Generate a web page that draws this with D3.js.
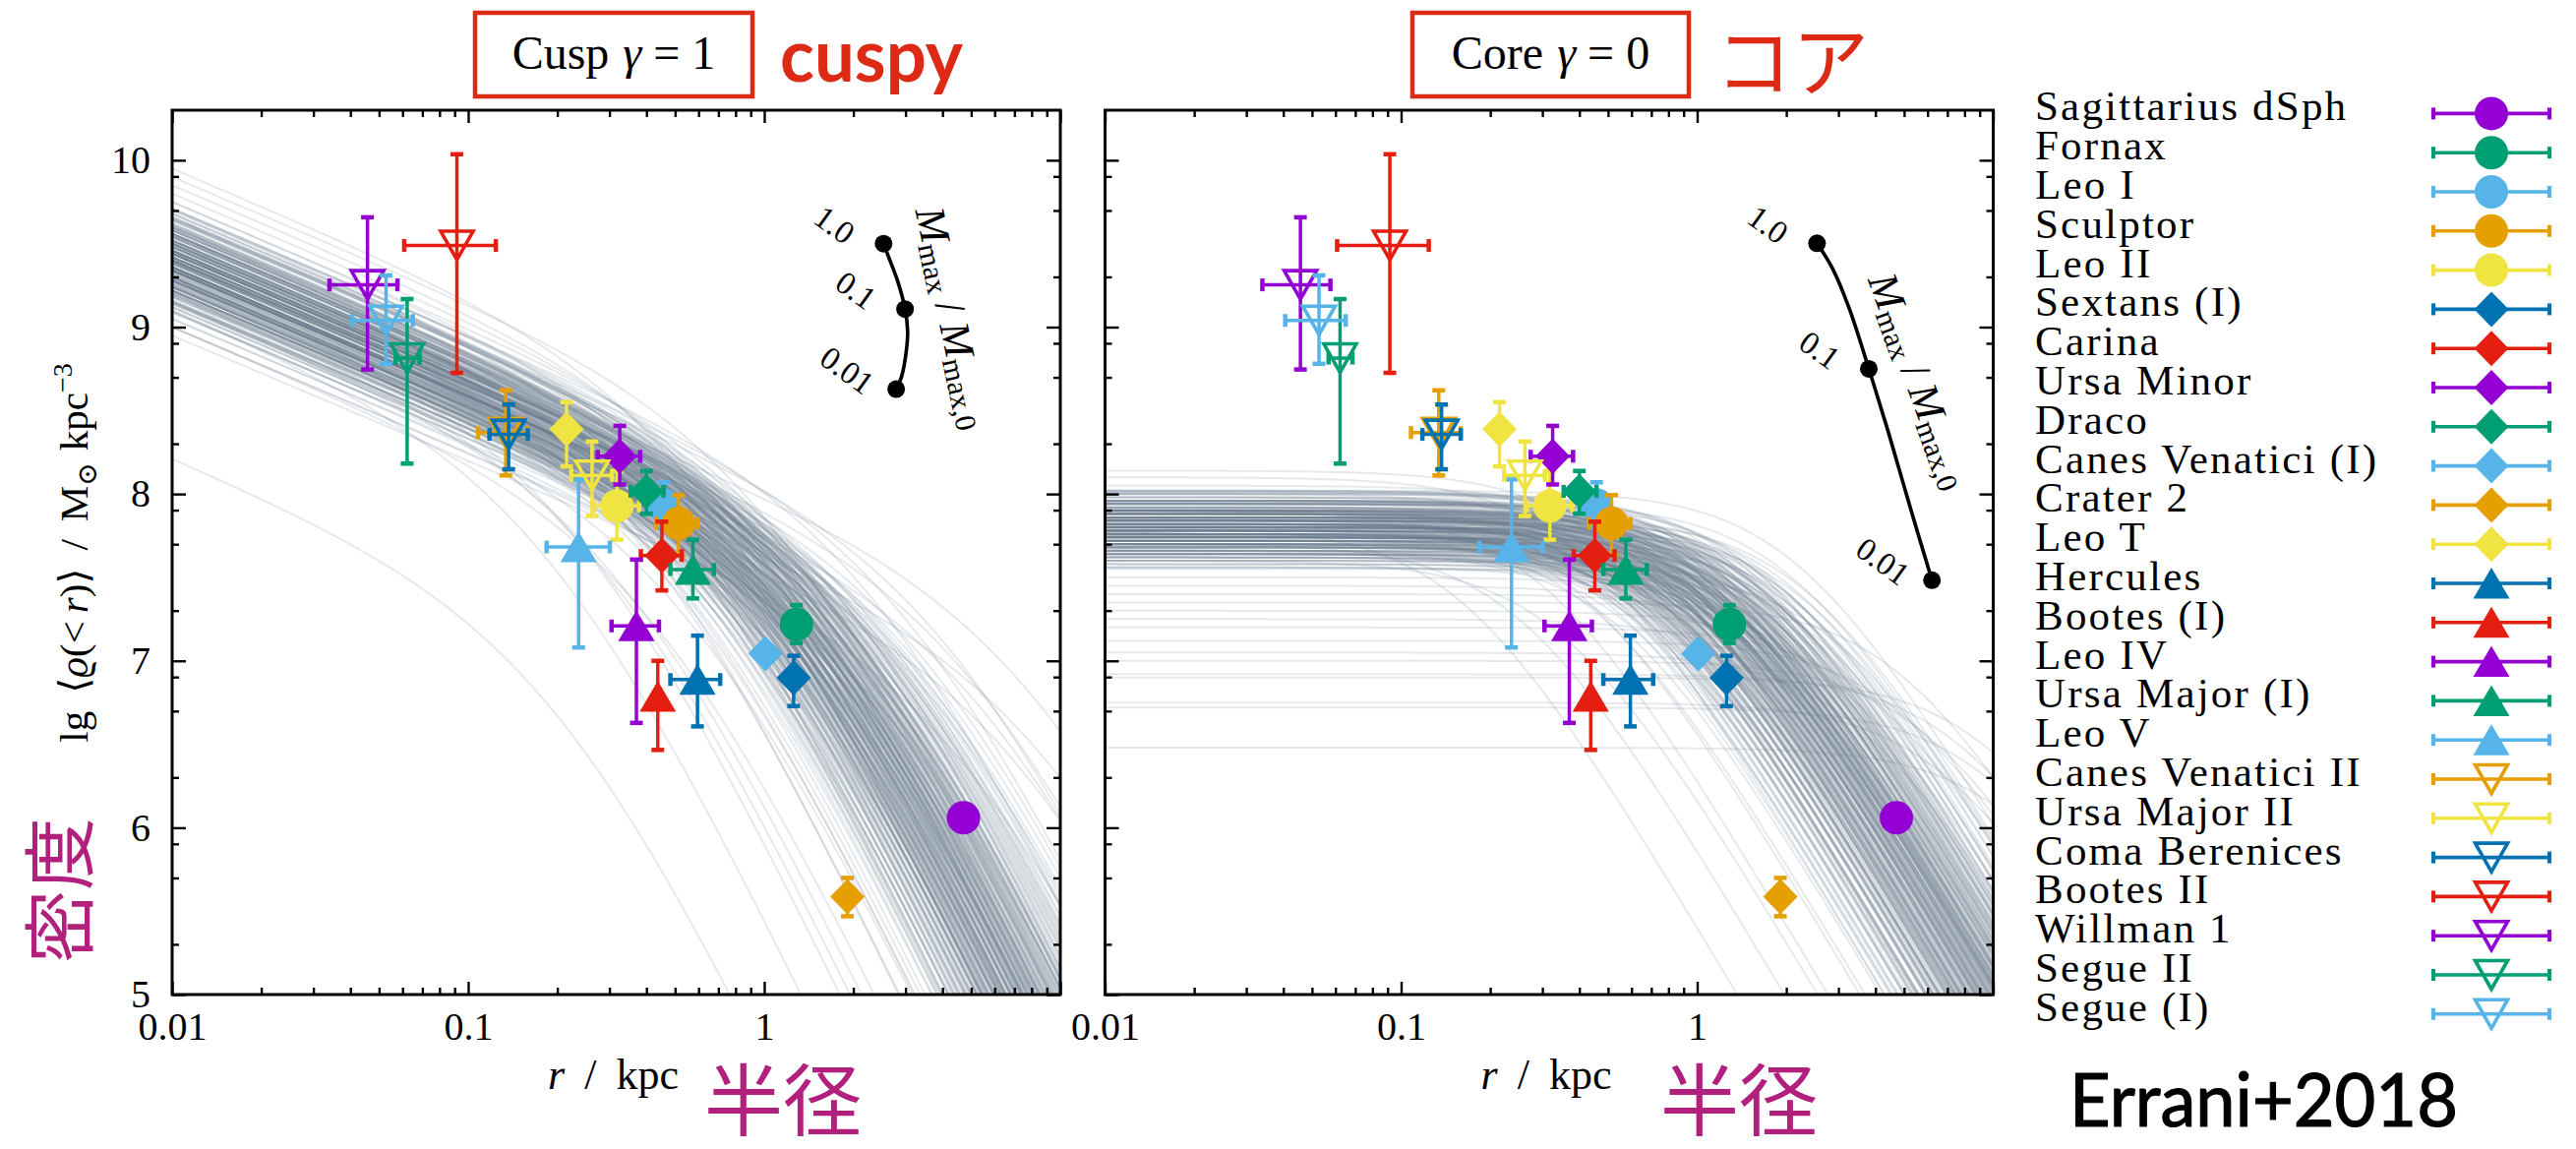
<!DOCTYPE html>
<html>
<head>
<meta charset="utf-8">
<script src="https://cdn.jsdelivr.net/npm/d3@7/dist/d3.min.js"></script>
<style>
html,body{margin:0;padding:0;background:#fff;}
svg{display:block;}
</style>
</head>
<body>
<svg id="chart" width="2619" height="1168" xmlns="http://www.w3.org/2000/svg"></svg>
<script>
// ================= DATA =================
const galaxyNames = ["Sagittarius dSph","Fornax","Leo I","Sculptor","Leo II","Sextans (I)","Carina","Ursa Minor","Draco","Canes Venatici (I)","Crater 2","Leo T","Hercules","Bootes (I)","Leo IV","Ursa Major (I)","Leo V","Canes Venatici II","Ursa Major II","Coma Berenices","Bootes II","Willman 1","Segue II","Segue (I)"];
const galaxyMarkers = ["circle","circle","circle","circle","circle","diamond","diamond","diamond","diamond","diamond","diamond","diamond","up","up","up","up","up","down","down","down","down","down","down","down"];
const galaxyColorKeys = ["purple","green","lightblue","orange","yellow","blue","red","purple","green","lightblue","orange","yellow","blue","red","purple","green","lightblue","orange","yellow","blue","red","purple","green","lightblue"];
// r / kpc (centre, lower, upper)
const radiusKpc = [4.71,1.285,0.457,0.514,0.318,1.257,0.451,0.325,0.400,1.009,1.91,0.215,0.595,0.437,0.370,0.574,0.236,0.134,0.262,0.137,0.0916,0.0457,0.0622,0.0528];
const radiusLo  = [null,null,null,0.431,0.266,null,0.383,0.274,0.354,null,null,null,0.482,null,0.305,0.482,0.184,0.108,0.223,0.118,0.0608,0.034,0.0569,0.0406];
const radiusHi  = [null,null,null,0.595,0.378,null,0.526,0.381,0.457,null,null,null,0.710,null,0.441,0.676,0.301,0.159,0.306,0.159,0.124,0.0577,0.0685,0.065];
// lg <rho(<r)> (centre, lower, upper)
const logDensity   = [6.06,7.219,7.935,7.824,7.928,6.898,7.631,8.226,8.016,7.043,5.587,8.388,6.888,6.786,7.209,7.547,7.682,8.368,8.111,8.357,9.489,9.253,8.814,9.040];
const logDensityLo = [null,7.107,7.80,7.631,7.726,6.729,7.422,8.057,7.881,null,5.469,8.165,6.607,6.466,6.628,7.374,7.080,8.111,7.868,8.148,8.726,8.746,8.182,8.780];
const logDensityHi = [null,7.334,8.07,7.993,8.138,7.030,7.834,8.408,8.138,null,5.699,8.550,7.151,7.0,7.607,7.726,8.087,8.621,8.314,8.536,10.036,9.658,9.168,9.310];

// model halo curves: lg<rho> at r = 0.01 kpc (L) and scale radius rc (kpc)
const cuspBandL  = [9.42,9.35,9.5,9.3,9.45,9.38,9.55,9.25,9.48,9.33,9.6,9.2,9.4,9.52,9.28,9.44,9.36,9.62,9.18,9.5,9.3,9.4,9.58,9.22,9.46,9.34,9.65,9.15,9.42,9.28];
const cuspBandRc = [1.3,1.0,1.5,1.2,0.9,1.8,1.1,1.5,2.2,0.8,1.3,1.0,2.6,0.75,2.0,1.15,1.4,0.95,1.7,1.8,0.65,3.2,1.6,1.3,1.05,2.4,1.2,2.2,0.7,1.1];
const cuspFringeL  = [9.95,9.85,9.9,9.75,9.7,9.8,9.0,8.95,9.05,9.15,9.3,9.5,9.6,9.2,9.1,9.3,9.0,9.45,9.6,9.1,9.7,9.05,9.35,9.55,9.25,9.15,9.75,9.45,9.65,9.0,8.21];
const cuspFringeRc = [0.6,0.8,1.1,1.4,0.5,1.0,3.0,5,8,10,6,9,4.5,0.3,0.2,0.25,0.45,0.4,0.35,0.6,2.5,1.4,0.5,0.55,4,0.35,0.7,5.5,3.3,2.0,0.209];
const coreBandL  = [7.8,7.85,7.75,7.9,7.7,7.82,7.78,7.88,7.72,7.95,7.68,7.84,7.76,7.92,7.8,7.66,7.86,7.74,7.9,7.7,7.82,7.96,7.62,7.88,7.78,7.8,7.72,7.84,7.94,7.64];
const coreBandRc = [1.07,1.2,0.9,1.0,1.3,0.8,1.5,0.9,1.1,1.15,0.95,1.35,0.75,0.85,1.7,1.6,1.05,1.25,1.4,0.8,0.65,0.95,1.2,1.8,1.0,2.0,0.7,0.6,1.25,1.45];
const coreFringeL  = [7.5,7.4,7.3,7.2,7.12,7.0,6.92,6.72,6.48,6.75,7.05,7.25,7.45,7.55,7.35,7.6,8.14,8.05,8.0,8.1,7.98,8.02,7.8,7.7,7.9,7.6,7.75,7.85,7.65,6.9];
const coreFringeRc = [2,2.5,3,4,5,6,8,10,12,7,3.5,2.2,1.6,3,5,2.5,0.5,0.7,0.55,0.4,1.6,2.2,0.16,0.25,0.3,0.35,0.45,0.4,0.55,10];
const bandOffsetL  = [-0.06, 0, 0.06];
const bandFactorRc = [0.85, 1, 1.18];

// tidal track (Mmax / Mmax,0)
const cuspTrackR = [2.53,2.62,2.83,2.99,3.05,3.02,2.91,2.79];
const cuspTrackV = [9.50,9.428,9.269,9.108,8.976,8.858,8.703,8.628];
const coreTrackR = [2.54,2.87,3.26,3.80,4.43,5.29,6.21];
const coreTrackV = [9.502,9.349,9.114,8.750,8.367,7.896,7.483];
const trackLabels = ["1.0","0.1","0.01"];
const cuspTrackLabelIdx = [0,3,7];
const coreTrackLabelIdx = [0,3,6];

const xMajorTicks = [0.01,0.1,1,10];
const xTickLabels = ["0.01","0.1","1",""];
const yMajorTicks = [5,6,7,8,9,10];
const yTickLabels = ["5","6","7","8","9","10"];

// ================= STYLE / LAYOUT =================
const palette = {purple:"#9400d3", green:"#009e73", lightblue:"#56b4e9", orange:"#e69f00", yellow:"#f0e442", blue:"#0072b2", red:"#e41e10"};
const serif = "'Liberation Serif','DejaVu Serif',serif";
const annRed = "#dc2a14";
const magenta = "#b1207c";
const curveColor = "#687a8c";

const svg = d3.select("#chart");
const yTop = 112, yBottom = 1011;
const panelLeft = [175, 1123.5];
const panelWidth = 903;
const y = d3.scaleLinear().domain([5, 10.3]).range([yBottom, yTop]);
const xScales = panelLeft.map(l => d3.scaleLog().domain([0.01, 10]).range([l, l + panelWidth]));

function cuspModel(L, rc) {
  return r => L - 0.75 * Math.log10(r / 0.01) - 2 * Math.log10((1 + Math.pow(r / rc, 1.5)) / (1 + Math.pow(0.01 / rc, 1.5)));
}
function coreModel(L, rc) {
  return r => L - 1.5 * Math.log10((1 + (r / rc) ** 2) / (1 + (0.01 / rc) ** 2));
}
const rSamples = d3.range(0, 151).map(i => Math.pow(10, -2 + 3 * i / 150));

const defs = svg.append("defs");
panelLeft.forEach((l, i) => {
  defs.append("clipPath").attr("id", "clip" + i)
    .append("rect").attr("x", l).attr("y", yTop).attr("width", panelWidth).attr("height", yBottom - yTop);
});

function buildFamily(bandL, bandRc, fringeL, fringeRc) {
  const fam = [];
  bandL.forEach((L, k) => {
    bandOffsetL.forEach(dl => bandFactorRc.forEach(f => fam.push([L + dl, bandRc[k] * f])));
  });
  fringeL.forEach((L, k) => fam.push([L, fringeRc[k]]));
  return fam;
}

function drawCurves(i, model, family) {
  const x = xScales[i];
  const g = svg.append("g").attr("clip-path", `url(#clip${i})`);
  const line = d3.line().x(d => x(d[0])).y(d => y(Math.max(d[1], 3.5)));
  family.forEach(([L, rc]) => {
    const f = model(L, rc);
    g.append("path")
      .attr("d", line(rSamples.map(r => [r, f(r)])))
      .attr("fill", "none")
      .attr("stroke", curveColor)
      .attr("stroke-opacity", 0.17)
      .attr("stroke-width", 2);
  });
}

drawCurves(0, cuspModel, buildFamily(cuspBandL, cuspBandRc, cuspFringeL, cuspFringeRc));
drawCurves(1, coreModel, buildFamily(coreBandL, coreBandRc, coreFringeL, coreFringeRc));

// marker path
function markerNode(g, shape, color, cx, cy) {
  if (shape === "circle") {
    g.append("circle").attr("cx", cx).attr("cy", cy).attr("r", 17).attr("fill", color);
  } else if (shape === "diamond") {
    g.append("path").attr("d", `M${cx},${cy-18}L${cx+17.5},${cy}L${cx},${cy+18}L${cx-17.5},${cy}Z`).attr("fill", color);
  } else if (shape === "up") {
    g.append("path").attr("d", `M${cx},${cy-16}L${cx+18.5},${cy+15.5}L${cx-18.5},${cy+15.5}Z`).attr("fill", color);
  } else {
    g.append("path").attr("d", `M${cx-16.5},${cy-14.5}L${cx+16.5},${cy-14.5}L${cx},${cy+14.5}Z`)
      .attr("fill", "none").attr("stroke", color).attr("stroke-width", 3.6).attr("stroke-linejoin", "miter");
  }
}

function drawPoints(i) {
  const x = xScales[i];
  const g = svg.append("g");
  galaxyNames.forEach((name, k) => {
    const c = palette[galaxyColorKeys[k]];
    const cx = x(radiusKpc[k]), cy = y(logDensity[k]);
    const eg = g.append("g").attr("stroke", c).attr("fill", "none");
    if (logDensityLo[k] !== null) {
      const y1 = y(logDensityLo[k]), y2 = y(logDensityHi[k]);
      eg.append("line").attr("x1", cx).attr("x2", cx).attr("y1", y1).attr("y2", y2).attr("stroke-width", 3.5);
      [y1, y2].forEach(yy => eg.append("line").attr("x1", cx - 6.5).attr("x2", cx + 6.5).attr("y1", yy).attr("y2", yy).attr("stroke-width", 4.5));
    }
    if (radiusLo[k] !== null) {
      const x1 = x(radiusLo[k]), x2 = x(radiusHi[k]);
      eg.append("line").attr("x1", x1).attr("x2", x2).attr("y1", cy).attr("y2", cy).attr("stroke-width", 3.5);
      [x1, x2].forEach(xx => eg.append("line").attr("x1", xx).attr("x2", xx).attr("y1", cy - 6.5).attr("y2", cy + 6.5).attr("stroke-width", 4.5));
    }
    markerNode(g, galaxyMarkers[k], c, cx, cy);
  });
}
drawPoints(0);
drawPoints(1);

// tidal tracks
function drawTrack(i, tr, tv, labelIdx, labelCenter, labelAngle) {
  const x = xScales[i];
  const g = svg.append("g");
  const pts = tr.map((r, k) => [x(r), y(tv[k])]);
  g.append("path").attr("d", d3.line().curve(d3.curveCatmullRom)(pts))
    .attr("fill", "none").attr("stroke", "#000").attr("stroke-width", 3.6);
  labelIdx.forEach((k, j) => {
    g.append("circle").attr("cx", pts[k][0]).attr("cy", pts[k][1]).attr("r", 9).attr("fill", "#000");
    g.append("text")
      .attr("transform", `translate(${pts[k][0] - 50},${pts[k][1] - 19}) rotate(36)`)
      .attr("text-anchor", "middle").attr("dominant-baseline", "central")
      .attr("font-family", serif).attr("font-size", 33).text(trackLabels[j]);
  });
  const t = g.append("text")
    .attr("transform", `translate(${labelCenter[0]},${labelCenter[1]}) rotate(${labelAngle})`)
    .attr("text-anchor", "middle").attr("dominant-baseline", "central")
    .attr("font-family", serif).attr("font-size", 43);
  t.append("tspan").attr("font-style", "italic").text("M");
  t.append("tspan").attr("font-size", 30).attr("dy", 9).text("max");
  t.append("tspan").attr("dy", -9).attr("dx", 10).text("/");
  t.append("tspan").attr("dx", 10).attr("font-style", "italic").text("M");
  t.append("tspan").attr("font-size", 30).attr("dy", 9).text("max,0");
}
drawTrack(0, cuspTrackR, cuspTrackV, cuspTrackLabelIdx, [969, 323], 78);
drawTrack(1, coreTrackR, coreTrackV, coreTrackLabelIdx, [1952, 387], 70);

// axes + frames
function drawAxes(i) {
  const x = xScales[i];
  const l = panelLeft[i], r = l + panelWidth;
  const minorX = x.ticks().filter(v => !xMajorTicks.some(m => Math.abs(m - v) < 1e-9));
  const minorY = [];
  yMajorTicks.forEach(k => [Math.log10(2), Math.log10(5), Math.log10(8)].forEach(o => { if (k + o <= 10.3) minorY.push(k + o); }));
  const g = svg.append("g");
  const style = sel => { sel.select(".domain").remove(); sel.selectAll("line").attr("stroke", "#000").attr("stroke-width", 2.4); };
  // bottom
  const bMaj = g.append("g").attr("transform", `translate(0,${yBottom})`)
    .call(d3.axisBottom(x).tickValues(xMajorTicks).tickSize(-13).tickPadding(18).tickFormat((d, j) => xTickLabels[j]));
  style(bMaj);
  bMaj.selectAll("text").attr("font-family", serif).attr("font-size", 40).attr("fill", "#000");
  style(g.append("g").attr("transform", `translate(0,${yBottom})`).call(d3.axisBottom(x).tickValues(minorX).tickSize(-7).tickFormat("")));
  // top
  style(g.append("g").attr("transform", `translate(0,${yTop})`).call(d3.axisTop(x).tickValues(xMajorTicks).tickSize(-13).tickFormat("")));
  style(g.append("g").attr("transform", `translate(0,${yTop})`).call(d3.axisTop(x).tickValues(minorX).tickSize(-7).tickFormat("")));
  // left
  const lMaj = g.append("g").attr("transform", `translate(${l},0)`)
    .call(d3.axisLeft(y).tickValues(yMajorTicks).tickSize(-14).tickPadding(22).tickFormat((d, j) => i === 0 ? yTickLabels[j] : ""));
  style(lMaj);
  lMaj.selectAll("text").attr("font-family", serif).attr("font-size", 40).attr("fill", "#000");
  style(g.append("g").attr("transform", `translate(${l},0)`).call(d3.axisLeft(y).tickValues(minorY).tickSize(-7).tickFormat("")));
  // right
  style(g.append("g").attr("transform", `translate(${r},0)`).call(d3.axisRight(y).tickValues(yMajorTicks).tickSize(-14).tickFormat("")));
  style(g.append("g").attr("transform", `translate(${r},0)`).call(d3.axisRight(y).tickValues(minorY).tickSize(-7).tickFormat("")));
  g.append("rect").attr("x", l).attr("y", yTop).attr("width", panelWidth).attr("height", yBottom - yTop)
    .attr("fill", "none").attr("stroke", "#000").attr("stroke-width", 3);
  // x label
  const xl = g.append("text").attr("x", l + panelWidth / 2 - 3).attr("y", 1107).attr("text-anchor", "middle")
    .attr("font-family", serif).attr("font-size", 44);
  xl.append("tspan").attr("font-style", "italic").text("r");
  xl.append("tspan").attr("dx", 20).text("/");
  xl.append("tspan").attr("dx", 20).text("kpc");
}
drawAxes(0);
drawAxes(1);

// y label
const yl = svg.append("text").attr("transform", "translate(89,562) rotate(-90)").attr("text-anchor", "middle")
  .attr("font-family", serif).attr("font-size", 41);
yl.append("tspan").text("lg");
yl.append("tspan").attr("dx", 18).text("⟨");
yl.append("tspan").attr("font-style", "italic").text("ϱ");
yl.append("tspan").text("(<");
yl.append("tspan").attr("dx", 8).attr("font-style", "italic").text("r");
yl.append("tspan").text(")⟩");
yl.append("tspan").attr("dx", 18).text("/");
yl.append("tspan").attr("dx", 18).text("M");
yl.append("tspan").attr("font-size", 28).attr("dy", 9).text("⊙");
yl.append("tspan").attr("dy", -9).attr("dx", 12).text("kpc");
yl.append("tspan").attr("font-size", 28).attr("dy", -16).text("−3");

// panel titles
function titleBox(x0, w, label, gammaVal) {
  svg.append("rect").attr("x", x0).attr("y", 13).attr("width", w).attr("height", 85)
    .attr("fill", "none").attr("stroke", annRed).attr("stroke-width", 4.5);
  const t = svg.append("text").attr("x", x0 + w / 2).attr("y", 70).attr("text-anchor", "middle")
    .attr("font-family", serif).attr("font-size", 48);
  t.append("tspan").text(label);
  t.append("tspan").attr("dx", 14).attr("font-style", "italic").text("γ");
  t.append("tspan").attr("dx", 12).text("=");
  t.append("tspan").attr("dx", 12).text(gammaVal);
}
titleBox(483, 282, "Cusp", "1");
titleBox(1436, 281, "Core", "0");

svg.append("text").attr("x", 793).attr("y", 83).attr("font-family", "Lato,'Open Sans',sans-serif").attr("font-weight", "bold")
  .attr("font-size", 74).attr("fill", annRed).attr("textLength", 186).attr("lengthAdjust", "spacingAndGlyphs").text("cuspy");
svg.append("text").attr("x", 1744).attr("y", 92).attr("font-family", "'Noto Sans CJK JP',sans-serif")
  .attr("font-size", 78).attr("fill", annRed).text("コア");

// Japanese axis annotations
svg.append("text").attr("transform", "translate(55,905) rotate(-90)").attr("text-anchor", "middle")
  .attr("dominant-baseline", "central").attr("font-family", "'Noto Sans CJK JP',sans-serif")
  .attr("font-size", 74).attr("fill", magenta).text("密度");
[716, 1688].forEach(xx => svg.append("text").attr("x", xx).attr("y", 1148)
  .attr("font-family", "'Noto Sans CJK JP',sans-serif").attr("font-size", 80).attr("fill", magenta).text("半径"));

// legend
const lg = svg.append("g");
galaxyNames.forEach((name, k) => {
  const cy = 115.4 + k * 39.8;
  const c = palette[galaxyColorKeys[k]];
  lg.append("text").attr("x", 2069).attr("y", cy + 7).attr("font-family", serif).attr("font-size", 43)
    .attr("letter-spacing", 2.2).text(name);
  lg.append("line").attr("x1", 2474).attr("x2", 2592).attr("y1", cy).attr("y2", cy).attr("stroke", c).attr("stroke-width", 3.6);
  [2474, 2592].forEach(xx => lg.append("line").attr("x1", xx).attr("x2", xx).attr("y1", cy - 6).attr("y2", cy + 6)
    .attr("stroke", c).attr("stroke-width", 4.2));
  markerNode(lg, galaxyMarkers[k], c, 2533, cy);
});

svg.append("text").attr("x", 2104).attr("y", 1145).attr("font-family", "Lato,'Open Sans',sans-serif")
  .attr("font-size", 76).attr("stroke", "#000").attr("stroke-width", 1.2)
  .attr("textLength", 395).attr("lengthAdjust", "spacingAndGlyphs").text("Errani+2018");
</script>
</body>
</html>
